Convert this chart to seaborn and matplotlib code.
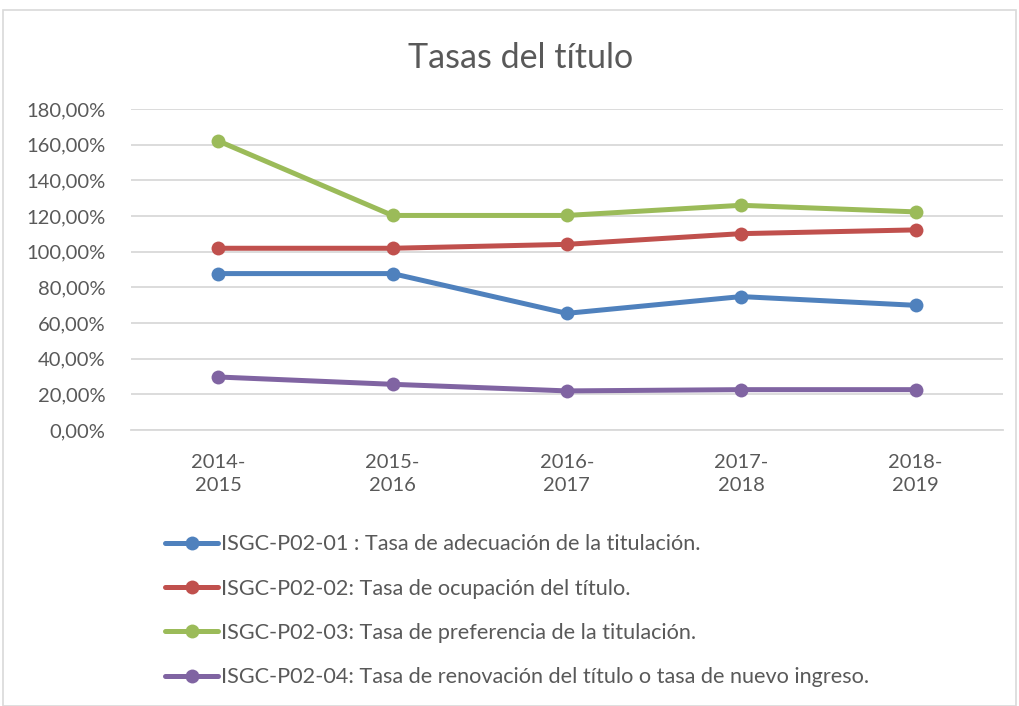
import matplotlib
matplotlib.use("Agg")
import matplotlib.pyplot as plt
import seaborn as sns
import pandas as pd
from matplotlib.patches import Rectangle
from matplotlib.ticker import FuncFormatter

categories = ["2014-\n2015", "2015-\n2016", "2016-\n2017", "2017-\n2018", "2018-\n2019"]
series_names = [
    "ISGC-P02-01 : Tasa de adecuación de la titulación.",
    "ISGC-P02-02: Tasa de ocupación del título.",
    "ISGC-P02-03: Tasa de preferencia de la titulación.",
    "ISGC-P02-04: Tasa de renovación del título o tasa de nuevo ingreso.",
]
adecuacion = [87.7, 87.7, 65.4, 74.8, 69.9]
ocupacion = [101.9, 101.9, 104.1, 110.1, 112.2]
preferencia = [162.1, 120.3, 120.3, 126.0, 122.3]
renovacion = [29.7, 25.6, 21.9, 22.6, 22.6]
colors = ["#4F81BD", "#C0504D", "#9BBB59", "#8064A2"]

rows = []
for name, vals in zip(series_names, [adecuacion, ocupacion, preferencia, renovacion]):
    for c, v in zip(categories, vals):
        rows.append({"Curso": c, "Valor": v, "Serie": name})
df = pd.DataFrame(rows)

sns.set_theme(style="white")
plt.rcParams["font.family"] = ["Lato", "DejaVu Sans"]
text_color = "#595959"

fig = plt.figure(figsize=(10.19, 7.06), dpi=100)
ax = fig.add_axes([0.1286, 0.391, 0.8554, 0.4546])

sns.lineplot(data=df, x="Curso", y="Valor", hue="Serie", palette=colors,
             marker="o", markersize=10, markeredgewidth=0, linewidth=3.6,
             sort=False, ax=ax)

ax.set_xlim(-0.5, 4.5)
ax.set_ylim(0, 180)
ax.set_yticks(range(0, 181, 20))
ax.yaxis.set_major_formatter(FuncFormatter(lambda v, p: f"{v:.2f}".replace(".", ",") + "%"))
ax.grid(axis="y", color="#D9D9D9", linewidth=1.3)
ax.set_axisbelow(True)
for s in ["top", "right", "left"]:
    ax.spines[s].set_visible(False)
ax.spines["bottom"].set_color("#D9D9D9")
ax.spines["bottom"].set_linewidth(1.3)
ax.tick_params(axis="y", labelsize=14.5, colors=text_color, pad=18.5, length=0)
ax.tick_params(axis="x", labelsize=14.5, colors=text_color, pad=17, length=0)
for t in ax.get_xticklabels():
    t.set_linespacing(1.45)
ax.set_xlabel("")
ax.set_ylabel("")

handles, labels = ax.get_legend_handles_labels()
ax.get_legend().remove()
fig.legend(handles, labels, loc="upper left", bbox_to_anchor=(0.162, 0.243),
           frameon=False, fontsize=15.6, labelcolor=text_color,
           handlelength=2.45, handletextpad=0.15, labelspacing=1.12,
           borderaxespad=0, borderpad=0)

fig.text(0.511, 0.918, "Tasas del título", ha="center", va="center",
         fontsize=24.5, color=text_color)

fig.patches.append(Rectangle((0.003, 0.0), 0.994, 0.986, transform=fig.transFigure,
                             fill=False, edgecolor="#D9D9D9", linewidth=1.2))

fig.savefig("out.png", dpi=100)
